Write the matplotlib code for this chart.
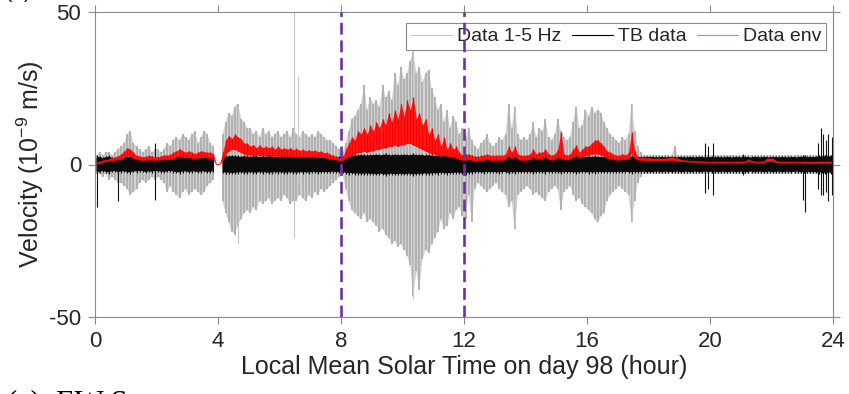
import numpy as np
import matplotlib
matplotlib.use("Agg")
import matplotlib.pyplot as plt
from matplotlib.lines import Line2D

nan = np.nan

# sample times (hours), one bin per 0.1 h
hours = np.arange(0, 24, 0.1) + 0.05

# 1-5 Hz filtered data: upper / lower extent in each bin (1e-9 m/s)
data_hi = [
    3, 4, 3, 4, 4, 3, 4, 5, 6, 7,
    10, 11, 7, 6, 5, 4, 5, 6, 4, 5,
    5, 4, 5, 7, 6, 8, 9, 8, 10, 9,
    8, 10, 11, 7, 9, 11, 10, 7, 6, nan,
    nan, 10, 14, 17, 16, 19, 20, 15, 14, 12,
    12, 10, 11, 9, 12, 10, 11, 9, 10, 11,
    9, 10, 11, 9, 12, 10, 9, 11, 10, 9,
    10, 9, 11, 10, 9, 8, 8, 7, 6, 5,
    4, 7, 11, 15, 16, 18, 20, 26, 18, 22,
    20, 21, 19, 26, 22, 24, 21, 30, 26, 32,
    28, 30, 34, 37, 30, 32, 27, 30, 31, 25,
    22, 18, 20, 14, 18, 12, 16, 14, 10, 12,
    9, 12, 8, 6, 5, 7, 8, 10, 7, 6,
    7, 9, 8, 10, 20, 12, 19, 10, 8, 9,
    8, 10, 14, 9, 12, 11, 15, 9, 8, 10,
    15, 11, 9, 8, 9, 14, 19, 12, 13, 18,
    16, 19, 17, 18, 17, 14, 12, 10, 9, 8,
    7, 9, 8, 10, 20, 11, 6, 4, 3, 3,
    3, 3, 3, 3, 3, 3, 3, 3, 6, 3,
    3, 3, 3, 3, 3, 3, 3, 3, 3, 3,
    3, 3, 3, 3, 3, 3, 3, 3, 3, 3,
    3, 3, 3, 3, 3, 3, 3, 3, 3, 3,
    3, 3, 3, 3, 3, 3, 3, 3, 3, 3,
    3, 3, 3, 3, 3, 3, 3, 3, 3, 3,
]
data_lo = [
    -3, -3, -4, -3, -5, -4, -5, -6, -6, -7,
    -8, -10, -9, -8, -6, -5, -6, -5, -4, -5,
    -4, -5, -6, -9, -7, -9, -10, -11, -9, -8,
    -10, -9, -8, -9, -10, -9, -7, -6, -5, nan,
    nan, -12, -16, -19, -22, -23, -20, -18, -16, -15,
    -16, -14, -15, -12, -13, -12, -11, -13, -12, -11,
    -12, -10, -11, -13, -12, -12, -10, -11, -12, -10,
    -11, -9, -10, -8, -9, -8, -7, -6, -5, -4,
    -3, -8, -12, -15, -16, -17, -18, -16, -19, -18,
    -19, -20, -22, -21, -23, -24, -26, -25, -27, -26,
    -28, -30, -33, -43, -35, -41, -31, -28, -29, -26,
    -24, -22, -18, -21, -20, -16, -18, -15, -14, -17,
    -18, -10, -19, -8, -6, -7, -8, -9, -8, -7,
    -6, -8, -9, -10, -14, -12, -21, -10, -9, -8,
    -7, -8, -10, -9, -10, -11, -12, -9, -8, -7,
    -8, -15, -9, -8, -7, -10, -12, -11, -13, -14,
    -15, -16, -18, -19, -17, -16, -12, -10, -9, -8,
    -7, -8, -9, -10, -19, -12, -6, -4, -3, -3,
    -3, -3, -3, -3, -3, -3, -3, -3, -3, -3,
    -3, -3, -3, -3, -3, -3, -3, -3, -3, -3,
    -3, -3, -3, -3, -3, -3, -3, -3, -3, -3,
    -3, -3, -3, -3, -3, -3, -3, -3, -3, -3,
    -3, -3, -3, -3, -3, -3, -3, -3, -3, -3,
    -3, -3, -3, -3, -3, -3, -3, -3, -3, -3,
]
# isolated transients in the 1-5 Hz data: (hour, top, bottom)
data_spikes = [(6.47, 55, -24), (6.59, 29, -6), (4.66, 19, -26),
               (10.34, 38, -44), (13.66, 19, -21), (17.45, 20, -19)]

# TB data: half-width of the dense trace in each bin
tb_amp = [
    2.2, 2.5, 2.1, 2.4, 2.6, 2.2, 2.1, 2.5, 2.3, 2.2,
    2.5, 2.6, 2.2, 2.3, 2.1, 2.2, 2.5, 2.2, 2.4, 2.1,
    2.2, 2.3, 2.5, 2.2, 2.1, 2.3, 2.5, 2.6, 2.3, 2.2,
    2.5, 2.3, 2.2, 2.5, 2.3, 2.2, 2.5, 2.3, 2.2, nan,
    nan, 2.5, 2.7, 2.6, 2.8, 2.7, 2.6, 2.5, 2.7, 2.6,
    2.5, 2.6, 2.7, 2.5, 2.6, 2.5, 2.7, 2.6, 2.5, 2.6,
    2.5, 2.7, 2.6, 2.5, 2.6, 2.7, 2.5, 2.6, 2.5, 2.6,
    2.5, 2.4, 2.6, 2.5, 2.4, 2.5, 2.4, 2.3, 2.5, 2.4,
    2.5, 2.7, 2.9, 2.8, 3.0, 2.9, 3.1, 3.0, 2.9, 3.1,
    3.0, 3.2, 3.0, 3.1, 3.3, 3.1, 3.0, 3.2, 3.1, 3.0,
    3.2, 3.1, 3.0, 3.3, 3.1, 3.0, 3.1, 2.9, 3.0, 2.9,
    2.8, 2.9, 2.7, 2.8, 2.9, 2.7, 2.8, 2.6, 2.7, 2.8,
    2.9, 2.7, 2.6, 2.5, 2.4, 2.5, 2.6, 2.4, 2.5, 2.4,
    2.5, 2.6, 2.4, 2.5, 2.7, 2.5, 2.6, 2.4, 2.5, 2.4,
    2.5, 2.4, 2.6, 2.5, 2.4, 2.5, 2.6, 2.4, 2.5, 2.4,
    2.5, 2.6, 2.4, 2.5, 2.4, 2.5, 2.6, 2.5, 2.4, 2.5,
    2.6, 2.5, 2.6, 2.5, 2.4, 2.5, 2.4, 2.5, 2.4, 2.5,
    2.4, 2.5, 2.4, 2.5, 2.6, 2.4, 2.5, 2.4, 2.3, 2.5,
    2.4, 2.5, 2.3, 2.4, 2.5, 2.3, 2.4, 2.5, 2.4, 2.3,
    2.5, 2.4, 2.3, 2.5, 2.4, 2.3, 2.5, 2.4, 2.3, 2.5,
    2.4, 2.3, 2.5, 2.4, 2.3, 2.5, 2.4, 2.3, 2.5, 2.4,
    2.3, 2.5, 2.4, 2.3, 2.5, 2.4, 2.3, 2.5, 2.4, 2.3,
    2.5, 2.4, 2.3, 2.5, 2.4, 2.3, 2.5, 2.4, 2.3, 2.5,
    2.4, 2.3, 2.5, 2.4, 2.5, 2.6, 2.5, 2.7, 2.6, 2.7,
]
# TB transients: (hour, top, bottom)
tb_spikes = [(0.06, 3, -14), (0.74, 2, -12), (1.95, 7, -11.6), (19.84, 7, -9.5),
             (19.95, 6, -8), (20.1, 7, -10), (21.07, 3.5, -3.5), (23.02, 3, -11.6),
             (23.09, 3, -15.5), (23.5, 7, -8), (23.6, 12, -10), (23.68, 10, -10),
             (23.76, 8, -9), (23.84, 10, -12), (23.97, 9, -10)]

# data envelope: lower / upper extent in each bin
env_lo = [
    0.3, 0.5, 0.8, 1.0, 1.2, 1.3, 1.5, 1.6, 1.8, 2.5,
    3.0, 2.8, 2.0, 1.8, 1.5, 1.5, 1.5, 1.6, 1.5, 1.5,
    1.5, 1.6, 1.8, 1.7, 1.8, 2.0, 2.5, 2.8, 2.5, 2.2,
    2.5, 2.2, 2.0, 2.2, 2.5, 2.3, 2.2, 2.2, 2.0, 0.0,
    0.0, 1.5, 3.5, 4.5, 5.0, 5.0, 4.5, 4.0, 3.5, 3.2,
    3.2, 3.0, 3.2, 3.0, 3.0, 2.8, 3.0, 2.8, 2.8, 2.8,
    2.8, 2.8, 2.8, 2.6, 2.8, 2.6, 2.5, 2.6, 2.5, 2.5,
    2.5, 2.5, 2.4, 2.3, 2.3, 2.1, 1.9, 1.8, 1.6, 1.4,
    1.4, 2.0, 2.5, 3.0, 3.5, 4.0, 4.0, 4.5, 4.0, 4.5,
    4.5, 5.0, 5.0, 5.5, 5.5, 6.0, 6.0, 6.5, 6.0, 6.5,
    6.5, 7.0, 7.0, 6.5, 6.0, 5.5, 5.0, 4.5, 4.0, 3.5,
    3.5, 3.0, 2.8, 3.0, 2.8, 2.5, 2.6, 2.2, 1.8, 1.5,
    1.5, 1.8, 1.5, 1.2, 1.2, 1.5, 1.5, 1.8, 1.5, 1.5,
    1.5, 1.5, 1.5, 1.8, 3.0, 2.0, 3.0, 1.8, 1.5, 1.5,
    1.5, 1.8, 2.5, 1.8, 2.0, 2.0, 2.5, 1.8, 1.5, 1.8,
    2.5, 2.0, 1.8, 1.6, 1.8, 2.5, 3.0, 2.2, 2.5, 3.0,
    3.0, 3.5, 3.5, 3.5, 3.2, 2.8, 2.2, 2.0, 1.8, 1.6,
    1.5, 1.8, 1.6, 2.0, 4.0, 2.2, 1.6, 1.5, 1.4, 1.4,
    1.4, 1.3, 1.3, 1.3, 1.3, 1.3, 1.4, 1.5, 1.3, 1.2,
    1.0, 1.0, 0.9, 0.9, 0.8, 0.8, 0.8, 0.7, 0.7, 0.7,
    0.6, 0.6, 0.6, 0.6, 0.6, 0.6, 0.6, 0.6, 0.6, 0.6,
    0.6, 0.7, 1.0, 0.8, 0.6, 0.6, 0.6, 0.7, 1.0, 1.0,
    1.0, 0.7, 0.6, 0.6, 0.6, 0.6, 0.6, 0.6, 0.6, 0.6,
    0.5, 0.5, 0.5, 0.5, 0.5, 0.5, 0.5, 0.5, 0.5, 0.5,
]
env_hi = [
    0.8, 1.0, 1.4, 1.6, 1.9, 2.2, 2.5, 2.8, 3.5, 4.5,
    5.5, 5.0, 4.0, 3.0, 2.8, 2.5, 2.6, 3.0, 2.7, 2.5,
    2.6, 2.8, 3.2, 3.0, 3.3, 4.0, 4.5, 5.2, 4.5, 4.0,
    4.5, 4.0, 3.6, 4.0, 4.5, 4.2, 4.0, 4.0, 3.6, 0.0,
    0.0, 4.0, 8.0, 9.5, 8.5, 10.0, 9.0, 8.5, 7.0, 7.0,
    6.0, 6.5, 5.5, 6.5, 5.5, 6.0, 5.5, 6.0, 5.0, 6.0,
    5.0, 5.5, 5.0, 5.5, 4.8, 5.3, 4.6, 5.0, 4.5, 4.8,
    4.4, 4.7, 4.2, 4.4, 3.8, 4.0, 3.3, 3.1, 2.6, 2.2,
    2.2, 5.0, 7.0, 9.0, 8.0, 11.0, 10.0, 12.0, 10.0, 13.0,
    11.0, 14.0, 12.0, 15.0, 13.0, 17.0, 14.0, 18.0, 15.0, 20.0,
    16.0, 21.0, 18.0, 22.0, 15.0, 17.0, 13.0, 15.0, 10.0, 12.0,
    8.0, 10.0, 6.0, 9.0, 5.0, 7.0, 5.0, 6.0, 4.0, 3.0,
    3.0, 3.5, 3.0, 2.5, 2.5, 3.0, 3.0, 3.5, 3.0, 3.0,
    3.0, 3.0, 3.0, 3.5, 6.0, 4.0, 6.0, 3.5, 3.0, 3.0,
    3.0, 3.5, 5.0, 3.5, 4.0, 4.0, 5.0, 3.5, 3.0, 3.5,
    5.0, 10.7, 3.5, 3.0, 3.5, 5.0, 6.5, 4.0, 5.0, 6.0,
    6.0, 7.0, 8.0, 8.0, 7.0, 6.0, 4.5, 4.0, 3.5, 3.0,
    3.0, 3.5, 3.2, 4.0, 10.7, 4.5, 2.5, 2.3, 2.2, 2.2,
    2.2, 2.0, 2.0, 2.0, 2.0, 2.0, 2.2, 2.5, 2.2, 2.0,
    1.6, 1.5, 1.4, 1.3, 1.2, 1.2, 1.1, 1.1, 1.0, 1.0,
    1.0, 1.0, 1.0, 1.0, 1.0, 1.0, 1.0, 1.0, 1.0, 1.0,
    1.0, 1.2, 1.8, 1.3, 1.0, 1.0, 1.0, 1.2, 2.0, 2.0,
    2.0, 1.2, 1.0, 1.0, 1.0, 1.0, 1.0, 1.0, 1.0, 1.0,
    1.0, 1.0, 1.0, 1.0, 1.0, 1.0, 1.0, 1.0, 1.0, 1.0,
]

marker_hours = [8, 12]
x_ticks = [0, 4, 8, 12, 16, 20, 24]
y_ticks = [-50, 0, 50]

plt.rcParams["font.family"] = ["Liberation Sans", "DejaVu Sans"]
plt.rcParams["mathtext.default"] = "regular"
plt.rcParams["axes.unicode_minus"] = False

TXT = "#262626"
SPINE = "#8a8a8a"

fig = plt.figure(figsize=(8.49, 3.94), dpi=100)
ax = fig.add_axes([95 / 849, 1 - 317 / 394, (833 - 95) / 849, (317 - 12) / 394])

tb_amp_arr = np.array(tb_amp)

# filtered data: light fill with darker per-bin strokes for a jagged trace
ax.fill_between(hours, data_lo, data_hi, color="#d2d2d2", lw=0, zorder=1)
ax.vlines(hours, data_lo, data_hi, color="#b2b2b2", lw=1.4, zorder=1)
for h, top, bot in data_spikes:
    ax.vlines(h, bot, top, color="#c6c6c6", lw=0.8, zorder=1)

# TB data
ax.fill_between(hours, -tb_amp_arr, tb_amp_arr, color="#0a0a0a", lw=0, zorder=2)
ax.vlines(hours, -tb_amp_arr - 0.4, tb_amp_arr + 0.4, color="#0a0a0a", lw=0.8, zorder=2)
for h, top, bot in tb_spikes:
    ax.vlines(h, bot, top, color="#111111", lw=0.8, zorder=2)

# envelope
ax.fill_between(hours, env_lo, env_hi, color="#ff1a1a", lw=0, zorder=3)
ax.vlines(hours, env_lo, env_hi, color="red", lw=1.0, zorder=3)
ax.plot(hours, env_lo, color="red", lw=0.6, zorder=3)

for h in marker_hours:
    ax.axvline(h, color="#7030A0", lw=1.9, dashes=(4.5, 2.2), zorder=6)

ax.set_xlim(0, 24)
ax.set_ylim(-50, 50)
ax.set_xticks(x_ticks)
ax.set_yticks(y_ticks)
ax.tick_params(direction="out", length=5, width=0.8, color=SPINE, labelcolor=TXT,
               labelsize=16, top=True, right=True, pad=5)
for s in ax.spines.values():
    s.set_color(SPINE)
    s.set_linewidth(0.8)

ax.set_xlabel("Local Mean Solar Time on day 98 (hour)", fontsize=18, color=TXT, labelpad=2)
ax.set_ylabel("Velocity (10$^{-9}$ m/s)", fontsize=18, color=TXT, labelpad=2)

handles = [Line2D([], [], color="#c4c4c4", lw=0.8),
           Line2D([], [], color="black", lw=0.8),
           Line2D([], [], color="#f07a7a", lw=0.8)]
leg = ax.legend(handles, ["Data 1-5 Hz", "TB data", "Data env"], ncol=3,
                loc="upper right", bbox_to_anchor=(0.9905, 0.964), borderaxespad=0,
                fontsize=14, handlelength=2.1, handletextpad=0.25, columnspacing=0.55,
                borderpad=0.25, fancybox=False, framealpha=1, edgecolor="#8a8a8a")
leg.get_frame().set_linewidth(0.8)
for t in leg.get_texts():
    t.set_color(TXT)

# neighbouring panel captions at the figure edges
fig.text(0.005, 1 - 2 / 394, "(b)", fontsize=16, color=TXT, va="bottom", ha="left")
fig.text(0.008, 1 - 389 / 394, "(c)  EW S", fontsize=22, color="black",
         family=["Liberation Serif", "DejaVu Serif"], va="top", ha="left")

fig.savefig("out.png", dpi=100)
